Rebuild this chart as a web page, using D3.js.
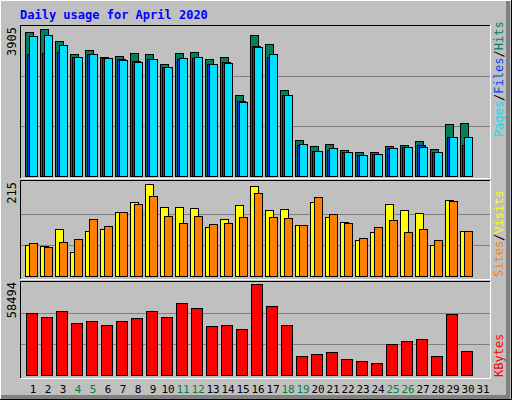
<!DOCTYPE html>
<html><head><meta charset="utf-8">
<script src="https://cdn.jsdelivr.net/npm/d3@7"></script>
<style>body{margin:0;background:#fff}svg{display:block}</style>
</head><body><svg width="512" height="400"></svg>
<script>
const days = d3.range(1, 32);
const weekends = [4, 5, 11, 12, 18, 19, 25, 26];
const hits = [3741,3827,3506,3168,3272,3090,3116,3194,3168,2908,3194,3220,3038,3090,2101,3663,3428,2231,929,773,825,669,617,617,773,799,903,695,1346,1372,0];
const files = [3176,3194,3220,3090,3168,3064,3038,2986,3038,2830,3038,3079,2908,2960,1944,3376,3090,2101,799,643,669,617,539,565,721,747,799,617,1007,799,0];
const pages = [3636,3663,3402,3090,3168,3064,3012,2960,3038,2830,3064,3090,2908,2934,1918,3350,3168,2101,825,643,721,617,539,565,721,747,747,617,1007,1007,0];
const visits = [71,69,108,55,103,108,147,170,212,159,159,157,113,131,163,207,152,154,117,170,136,124,83,101,166,152,145,71,175,103,0];
const sites = [76,66,78,85,131,115,147,166,184,138,122,138,120,122,136,191,136,133,117,182,143,122,89,113,129,101,108,83,173,103,0];
const kbytes = [38809,36293,40067,32519,33777,31261,33777,35664,40067,36293,45099,41954,30632,31261,28745,57239,43212,31261,11762,13020,14278,9875,8617,7359,19310,21197,22455,11762,38180,14907,0];
const maxHits = 3905, maxVisits = 215, maxKB = 58494;

const svg = d3.select("svg");
const mono = "DejaVu Sans Mono, monospace";

// frame
svg.append("rect").attr("width", 512).attr("height", 400).attr("fill", "#c0c0c0");
svg.append("path").attr("d", "M0.5,399.5V0.5H511.5").attr("stroke", "#fff").attr("fill", "none");
svg.append("path").attr("d", "M1,397H508V1").attr("stroke", "#808080").attr("stroke-width", 4).attr("fill", "none");
svg.append("path").attr("d", "M0,399.5H511.5V0").attr("stroke", "#000").attr("fill", "none");

svg.append("text").attr("x", 20).attr("y", 19).attr("fill", "#0000ff")
  .attr("font-family", mono).attr("font-size", 12).attr("font-weight", "bold")
  .text("Daily usage for April 2020");

const x = d3.scaleBand().domain(days).range([23.5, 488.5]).paddingInner(0);

function panel(y0, y1) {
  svg.append("path").attr("d", `M20.5,${y1}V${y0}.5H490`).attr("stroke", "#000").attr("fill", "none");
  svg.append("path").attr("d", `M20.5,${y1}.5H490.5V${y0}`).attr("stroke", "#fff").attr("fill", "none");
}
panel(25, 178);
panel(180, 279);
panel(281, 378);

function grid(y) {
  [1 / 3, 2 / 3].forEach((f) => {
    const yy = Math.round(y(y.domain()[1] * f)) + 0.5;
    svg.append("line").attr("x1", 21).attr("x2", 490).attr("y1", yy).attr("y2", yy).attr("stroke", "#808080");
  });
}

function bars(data, y, dx, w, color) {
  svg.append("g").selectAll("rect").data(data).join("rect")
    .filter((d) => d > 0)
    .attr("x", (d, i) => Math.round(x(days[i])) + dx + 0.5)
    .attr("y", (d) => Math.round(y(d)) + 0.5)
    .attr("width", w)
    .attr("height", (d) => y(0) - Math.round(y(d)))
    .attr("fill", color).attr("stroke", "#000");
}

const yTop = d3.scaleLinear().domain([0, maxHits]).range([176, 26]);
grid(yTop);
bars(hits, yTop, 1, 8, "#00805c");
bars(files, yTop, 3, 8, "#0040ff");
bars(pages, yTop, 5, 8, "#00e0ff");

const yMid = d3.scaleLinear().domain([0, maxVisits]).range([276, 183]);
grid(yMid);
bars(visits, yMid, 1, 8, "#ffff00");
bars(sites, yMid, 5, 8, "#ff8000");

const yBot = d3.scaleLinear().domain([0, maxKB]).range([375, 282]);
grid(yBot);
bars(kbytes, yBot, 2, 11, "#ff0000");

// max labels, rotated
function vlabel(xx, yy, txt, anchor) {
  return svg.append("text").attr("transform", `translate(${xx},${yy}) rotate(-90)`)
    .attr("font-family", mono).attr("font-size", 12).attr("text-anchor", anchor).text(txt);
}
vlabel(16, 27, maxHits, "end");
vlabel(16, 182, maxVisits, "end");
vlabel(16, 282, maxKB, "end");

function legend(yy, parts) {
  const t = svg.append("text").attr("transform", `translate(503,${yy}) rotate(-90)`)
    .attr("font-family", mono).attr("font-size", 12);
  parts.forEach(([s, c]) => t.append("tspan").attr("fill", c).text(s));
}
legend(137, [["Pages", "#00e0ff"], ["/", "#000"], ["Files", "#0040ff"], ["/", "#000"], ["Hits", "#00805c"]]);
legend(277, [["Sites", "#ff8000"], ["/", "#000"], ["Visits", "#ffff00"]]);
legend(377, [["KBytes", "#ff0000"]]);

svg.append("g").selectAll("text").data(days).join("text")
  .attr("x", (d) => x(d) + 9.5).attr("y", 393)
  .attr("text-anchor", "middle").attr("font-family", mono).attr("font-size", 11)
  .attr("fill", (d) => (weekends.includes(d) ? "#008040" : "#000"))
  .text((d) => d);
</script></body></html>
